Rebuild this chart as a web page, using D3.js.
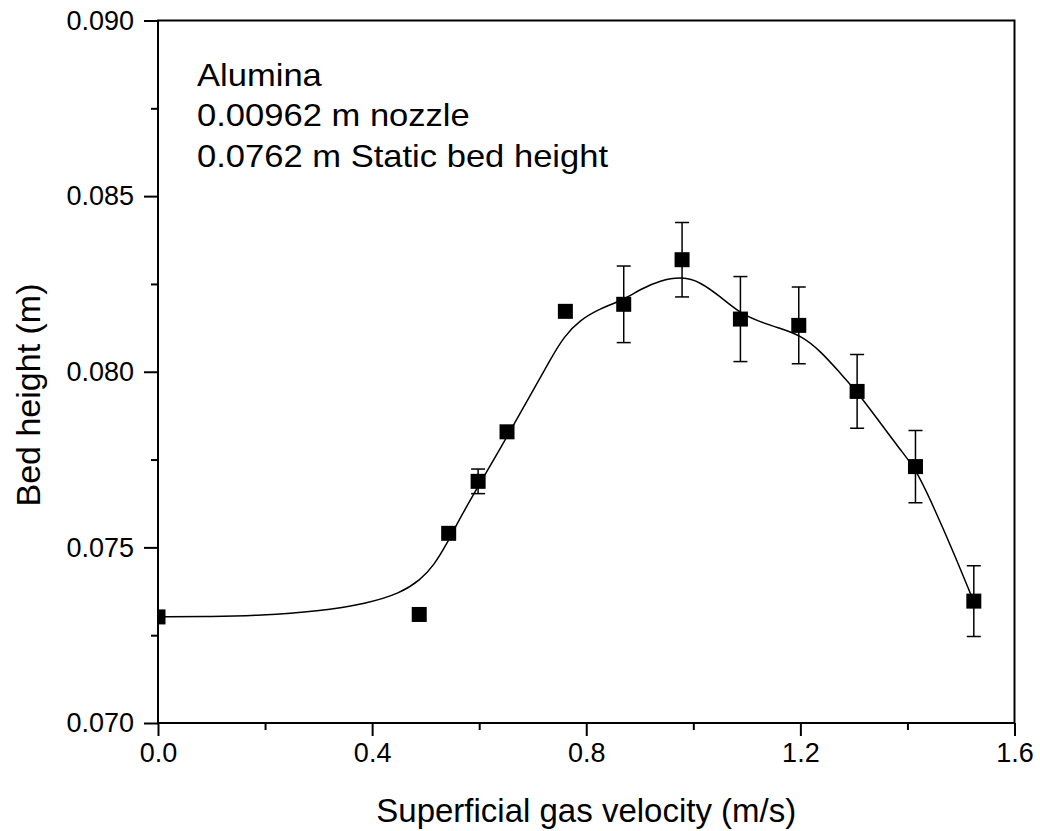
<!DOCTYPE html>
<html>
<head>
<meta charset="utf-8">
<script src="https://cdn.jsdelivr.net/npm/d3@7"></script>
<style>
  html, body { margin: 0; padding: 0; background: #fff; }
  svg { display: block; }
  text { font-family: Arial, "Liberation Sans", Helvetica, sans-serif; fill: #000; }
</style>
</head>
<body>
<div id="chart"></div>
<script>
// ---- data ----
const velocity = [0, 0.488, 0.543, 0.598, 0.652, 0.761, 0.870, 0.979, 1.088, 1.197, 1.306, 1.415, 1.524];
const bedHeight = [0.07302, 0.07309, 0.07540, 0.07688, 0.07829, 0.08172, 0.08192, 0.08319, 0.08150, 0.08132, 0.07944, 0.07730, 0.07347];
const bedHeightErr = [0, 0, 0, 0.00035, 0, 0, 0.00109, 0.00106, 0.00121, 0.00109, 0.00105, 0.00103, 0.00101];

const fitVelocity = [0, 0.10, 0.19, 0.30, 0.39, 0.452, 0.490, 0.515, 0.540, 0.561, 0.596, 0.652, 0.702, 0.733, 0.758, 0.789, 0.826, 0.870, 0.901, 0.938, 0.979, 1.013, 1.051, 1.088, 1.125, 1.163, 1.200, 1.237, 1.275, 1.306, 1.350, 1.387, 1.415, 1.449, 1.487, 1.524];
const fitHeight = [0.07302, 0.07303, 0.07306, 0.07318, 0.07340, 0.07369, 0.07407, 0.07448, 0.07511, 0.07575, 0.07668, 0.07815, 0.07950, 0.08035, 0.08100, 0.08148, 0.08180, 0.08205, 0.08235, 0.08260, 0.08271, 0.08256, 0.08213, 0.08166, 0.08142, 0.08123, 0.08104, 0.08060, 0.07995, 0.07943, 0.07853, 0.07777, 0.07725, 0.07615, 0.07483, 0.07345];

const xTicks = [0.0, 0.4, 0.8, 1.2, 1.6];
const xMinorTicks = [0.2, 0.6, 1.0, 1.4];
const yTicks = [0.070, 0.075, 0.080, 0.085, 0.090];
const yMinorTicks = [0.0725, 0.0775, 0.0825, 0.0875];

const annotationLines = ["Alumina", "0.00962 m nozzle", "0.0762 m Static bed height"];
const xTitle = "Superficial gas velocity (m/s)";
const yTitle = "Bed height (m)";

(function () {
// ---- layout ----
const W = 1040, H = 831;
const pL = 158, pR = 1014.5, pT = 20.5, pB = 723;

const svg = d3.select("#chart").append("svg").attr("width", W).attr("height", H);

const x = d3.scaleLinear().domain([0, 1.6]).range([pL, pR]);
const y = d3.scaleLinear().domain([0.070, 0.090]).range([pB, pT]);

// clip
svg.append("defs").append("clipPath").attr("id", "plotclip")
  .append("rect").attr("x", pL).attr("y", pT).attr("width", pR - pL).attr("height", pB - pT);

const plot = svg.append("g").attr("clip-path", "url(#plotclip)");

// fit curve
const line = d3.line()
  .x((d, i) => x(fitVelocity[i]))
  .y((d, i) => y(fitHeight[i]))
  .curve(d3.curveBasis);
plot.append("path")
  .attr("d", line(fitVelocity))
  .attr("fill", "none").attr("stroke", "#000").attr("stroke-width", 1.5);

// error bars
const cap = 7;
velocity.forEach((v, i) => {
  const e = bedHeightErr[i];
  if (!e) return;
  const cx = x(v), y1 = y(bedHeight[i] + e), y2 = y(bedHeight[i] - e);
  const g = plot.append("g").attr("stroke", "#000").attr("stroke-width", 1.5);
  g.append("line").attr("x1", cx).attr("x2", cx).attr("y1", y1).attr("y2", y2);
  g.append("line").attr("x1", cx - cap).attr("x2", cx + cap).attr("y1", y1).attr("y2", y1);
  g.append("line").attr("x1", cx - cap).attr("x2", cx + cap).attr("y1", y2).attr("y2", y2);
});

// markers
const ms = 15;
plot.selectAll("rect.pt").data(velocity).enter().append("rect")
  .attr("class", "pt")
  .attr("x", d => x(d) - ms / 2)
  .attr("y", (d, i) => y(bedHeight[i]) - ms / 2)
  .attr("width", ms).attr("height", ms)
  .attr("fill", "#000");

// axes
const axisStroke = 2;
const fontFam = "Arial, 'Liberation Sans', sans-serif";
const xAxis = d3.axisBottom(x).tickValues(xTicks).tickSize(13).tickPadding(7).tickFormat(d3.format(".1f"));
const gx = svg.append("g").attr("transform", `translate(0,${pB})`).call(xAxis);
gx.select(".domain").remove();
gx.selectAll(".tick line").attr("stroke", "#000").attr("stroke-width", axisStroke);
gx.selectAll(".tick text").attr("font-size", 27).attr("font-family", fontFam).attr("fill", "#000");
const gxm = svg.append("g").attr("transform", `translate(0,${pB})`)
  .call(d3.axisBottom(x).tickValues(xMinorTicks).tickSize(7).tickFormat(""));
gxm.select(".domain").remove();
gxm.selectAll(".tick line").attr("stroke", "#000").attr("stroke-width", axisStroke);

const yAxis = d3.axisLeft(y).tickValues(yTicks).tickSize(14).tickPadding(10).tickFormat(d3.format(".3f"));
const gy = svg.append("g").attr("transform", `translate(${pL},0)`).call(yAxis);
gy.select(".domain").remove();
gy.selectAll(".tick line").attr("stroke", "#000").attr("stroke-width", axisStroke);
gy.selectAll(".tick text").attr("font-size", 27).attr("font-family", fontFam).attr("fill", "#000");
const gym = svg.append("g").attr("transform", `translate(${pL},0)`)
  .call(d3.axisLeft(y).tickValues(yMinorTicks).tickSize(7).tickFormat(""));
gym.select(".domain").remove();
gym.selectAll(".tick line").attr("stroke", "#000").attr("stroke-width", axisStroke);

// frame
svg.append("rect")
  .attr("x", pL).attr("y", pT).attr("width", pR - pL).attr("height", pB - pT)
  .attr("fill", "none").attr("stroke", "#000").attr("stroke-width", axisStroke);

// axis titles
svg.append("text")
  .attr("x", (pL + pR) / 2).attr("y", 822)
  .attr("text-anchor", "middle").attr("font-size", 33)
  .text(xTitle);
svg.append("text")
  .attr("transform", `translate(40,395) rotate(-90)`)
  .attr("text-anchor", "middle").attr("font-size", 34)
  .text(yTitle);

// annotation (slightly wide glyphs as in the reference)
const ann = svg.append("g");
annotationLines.forEach((t, i) => {
  ann.append("text")
    .attr("transform", `translate(197,${86 + i * 40.3}) scale(1.08,1)`)
    .attr("font-size", 32)
    .text(t);
});
})();
</script>
</body>
</html>
